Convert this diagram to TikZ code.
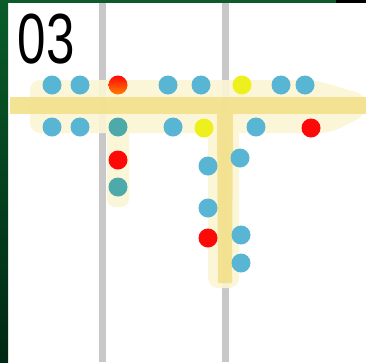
\documentclass[tikz,border=0pt]{standalone}
\usepackage{fontspec}
\setmainfont{Liberation Sans}
\definecolor{dotblue}{RGB}{88,182,212}
\definecolor{dotteal}{RGB}{78,170,170}
\definecolor{dotred}{RGB}{255,8,8}
\definecolor{dotyellow}{RGB}{238,240,30}
\definecolor{bandyellow}{RGB}{242,224,138}
\definecolor{haloyellow}{RGB}{252,246,212}
\definecolor{gridgray}{RGB}{200,200,200}
\definecolor{framegreen}{RGB}{10,92,42}
\definecolor{framedark}{RGB}{0,40,20}
\tikzset{
  dot/.style={circle, inner sep=0pt, minimum size=19pt, draw=none},
  bdot/.style={dot, fill=dotblue},
  tdot/.style={dot, fill=dotteal},
  rdot/.style={dot, fill=dotred},
  ydot/.style={dot, fill=dotyellow},
  gdot/.style={dot, top color=dotred, bottom color=orange},
  gridline/.style={draw=gridgray, line width=7pt},
  band/.style={fill=bandyellow, opacity=0.9},
  halo/.style={fill=haloyellow, opacity=0.9}
}
\begin{document}
\begin{tikzpicture}[x=1pt,y=-1pt]
\useasboundingbox (0,0) rectangle (366,362);
\fill[white] (0,0) rectangle (366,362);
% frame
\shade[top color=framegreen, bottom color=framedark] (0,0) rectangle (8,362);
\fill[framegreen] (0,0) rectangle (336,3);
\fill[black] (336,0) rectangle (366,3);
% grid lines
\draw[gridline] (102,3) -- (102,362);
\draw[gridline] (225,3) -- (225,362);
% halos
\fill[halo, rounded corners=10pt] (30,80) -- (315,80) -- (366,95) -- (366,115) -- (330,133) -- (30,133) -- cycle;
\fill[halo, rounded corners=8pt] (107,113) -- (129,113) -- (129,207) -- (107,207) -- cycle;
\fill[halo, rounded corners=10pt] (208,113) -- (239,113) -- (239,288) -- (208,288) -- cycle;
% main bands
\fill[band] (10,97) -- (366,97) -- (366,114) -- (10,114) -- cycle;
\fill[band] (217,114) -- (233,114) -- (232,283) -- (218,283) -- cycle;
% title
\node[anchor=base west, inner sep=0pt, font=\fontsize{71}{71}\selectfont, xscale=0.72] (title) at (17.5,63) {03};
% row 1
\node[bdot] (a1) at (52,85) {};
\node[bdot] (a2) at (80,85) {};
\node[gdot] (a3) at (118,85) {};
\node[bdot] (a4) at (168,85) {};
\node[bdot] (a5) at (201,85) {};
\node[ydot] (a6) at (242,85) {};
\node[bdot] (a7) at (281,85) {};
\node[bdot] (a8) at (305,85) {};
% row 2
\node[bdot] (b1) at (52,127) {};
\node[bdot] (b2) at (80,127) {};
\node[tdot] (b3) at (118,127) {};
\node[bdot] (b4) at (173,127) {};
\node[ydot] (b5) at (204,128) {};
\node[bdot] (b6) at (256,127) {};
\node[rdot] (b7) at (311,128) {};
% left column
\node[rdot] (c1) at (118,160) {};
\node[tdot] (c2) at (118,187) {};
% right column
\node[bdot] (d1) at (240,158) {};
\node[bdot] (d2) at (208,166) {};
\node[bdot] (d3) at (208,208) {};
\node[rdot] (d4) at (208,238) {};
\node[bdot] (d5) at (241,235) {};
\node[bdot] (d6) at (241,263) {};
\end{tikzpicture}
\end{document}
